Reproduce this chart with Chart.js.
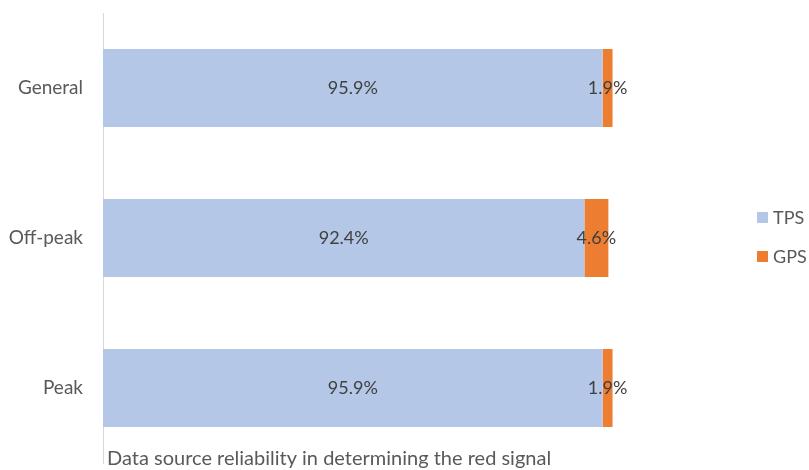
<!DOCTYPE html>
<html>
<head>
<meta charset="utf-8">
<script src="https://cdn.jsdelivr.net/npm/chart.js@4/dist/chart.umd.min.js"></script>
<style>
  html, body { margin: 0; padding: 0; background: #fff; }
  #wrap { width: 809px; height: 470px; }
</style>
</head>
<body>
<div id="wrap"><canvas id="myChart"></canvas></div>
<script>
  // Chart data
  const categories = ['General', 'Off-peak', 'Peak'];
  const tpsValues = [95.9, 92.4, 95.9];
  const gpsValues = [1.9, 4.6, 1.9];
  const chartTitle = 'Data source reliability in determining the red signal';

  const FONT = 'Lato, "Open Sans", sans-serif';

  // draws value labels, bottom title and right-hand legend
  const extrasPlugin = {
    id: 'extras',
    afterDatasetsDraw(chart) {
      const ctx = chart.ctx;
      ctx.save();
      ctx.font = '18px ' + FONT;
      ctx.fillStyle = '#404040';
      ctx.textAlign = 'center';
      ctx.textBaseline = 'middle';
      chart.data.datasets.forEach((ds, i) => {
        const meta = chart.getDatasetMeta(i);
        meta.data.forEach((bar, j) => {
          const cx = (bar.x + bar.base) / 2;
          ctx.fillText(ds.data[j].toFixed(1) + '%', cx, bar.y);
        });
      });

      // title under the bars
      ctx.fillStyle = '#595959';
      ctx.textAlign = 'left';
      ctx.textBaseline = 'alphabetic';
      ctx.font = '20px ' + FONT;
      ctx.fillText(chartTitle, 107, 465);

      // legend
      ctx.font = '18px ' + FONT;
      ctx.textBaseline = 'middle';
      chart.data.datasets.forEach((ds, i) => {
        const y = 218 + i * 39;
        ctx.fillStyle = ds.backgroundColor;
        ctx.fillRect(757, y - 6, 11, 11);
        ctx.fillStyle = '#595959';
        ctx.fillText(ds.label, 773, y);
      });
      ctx.restore();
    }
  };

  const config = {
    type: 'bar',
    data: {
      labels: categories,
      datasets: [
        {
          label: 'TPS',
          data: tpsValues,
          backgroundColor: '#b4c7e7',
          categoryPercentage: 1,
          barPercentage: 0.52
        },
        {
          label: 'GPS',
          data: gpsValues,
          backgroundColor: '#ed7d31',
          categoryPercentage: 1,
          barPercentage: 0.52
        }
      ]
    },
    options: {
      indexAxis: 'y',
      responsive: true,
      maintainAspectRatio: false,
      animation: false,
      layout: {
        padding: { top: 13, bottom: 7, right: 185, left: 0 }
      },
      plugins: {
        legend: { display: false },
        tooltip: { enabled: false }
      },
      scales: {
        x: {
          stacked: true,
          display: false,
          min: 0,
          max: 100
        },
        y: {
          stacked: true,
          afterFit: (scale) => {
            scale.width = 103;
            scale.paddingTop = 0;
            scale.paddingBottom = 0;
          },
          grid: { display: false, drawTicks: false },
          border: { color: '#d9d9d9', width: 1 },
          ticks: {
            padding: 20,
            color: '#595959',
            font: { family: FONT, size: 19 }
          }
        }
      }
    },
    plugins: [extrasPlugin]
  };

  const ctx = document.getElementById('myChart').getContext('2d');
  const myChart = new Chart(ctx, config);
</script>
</body>
</html>
